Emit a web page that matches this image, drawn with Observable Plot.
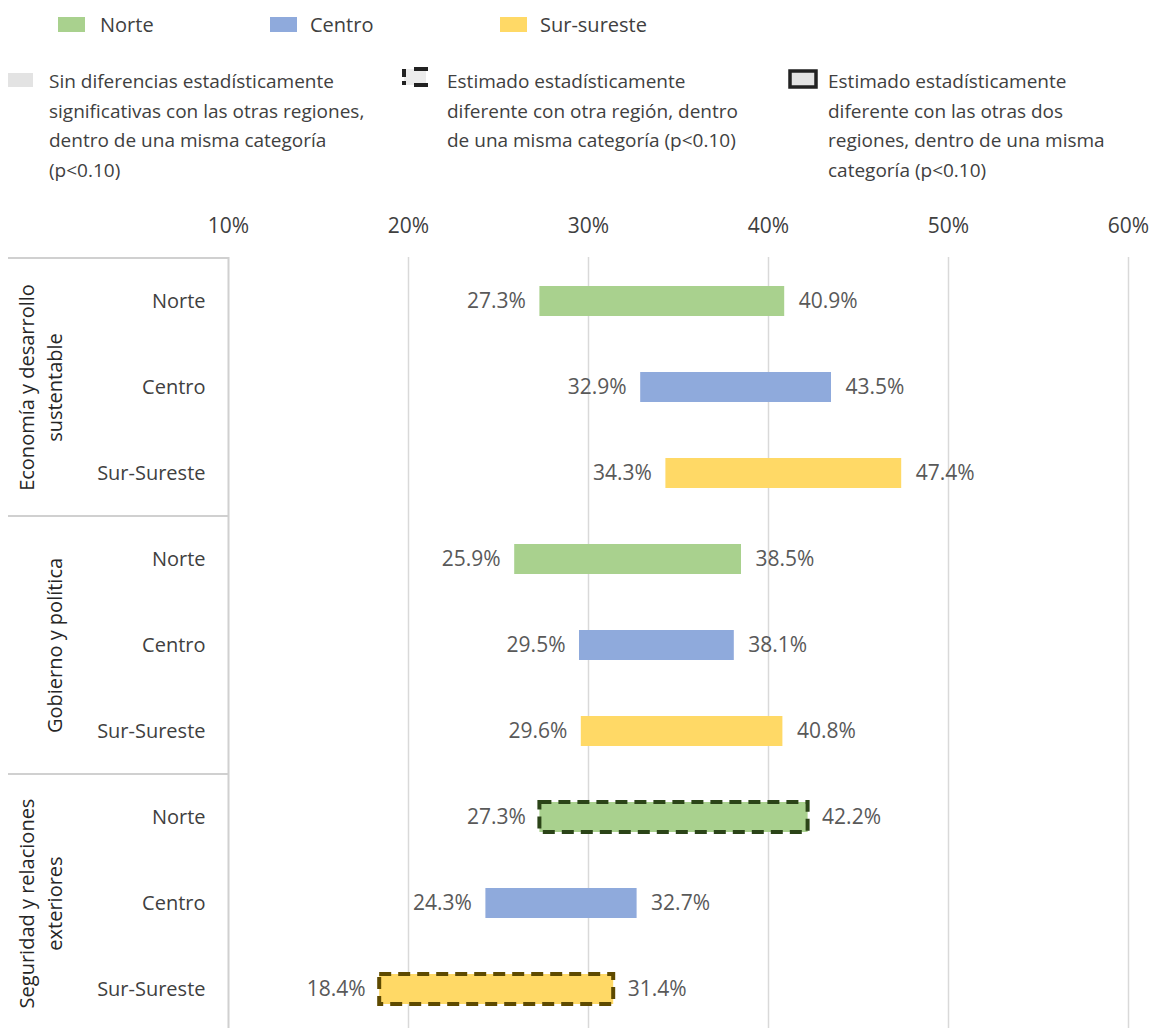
<!DOCTYPE html>
<html>
<head>
<meta charset="utf-8">
<script src="https://cdn.jsdelivr.net/npm/d3@7"></script>
<script src="https://cdn.jsdelivr.net/npm/@observablehq/plot@0.6"></script>
<style>
  html, body { margin: 0; padding: 0; background: #fff; overflow: hidden; }
  body { width: 1153px; font-family: "Open Sans", sans-serif; }
  #legend { position: relative; width: 1153px; height: 190px; color: #404040; }
  .item { position: absolute; font-size: 19px; line-height: 29.5px; white-space: nowrap; }
  .sw { position: absolute; box-sizing: border-box; }
  #chart svg { display: block; max-width: none; }
</style>
</head>
<body>
<div id="legend"></div>
<div id="chart"></div>
<script>
// ---- data ----
const categories = ["Economía y desarrollo sustentable", "Gobierno y política", "Seguridad y relaciones exteriores"];
const categoryLabels = ["Economía y desarrollo\nsustentable", "Gobierno y política", "Seguridad y relaciones\nexteriores"];
const regions = ["Norte", "Centro", "Sur-Sureste"];
const lower = [27.3, 32.9, 34.3, 25.9, 29.5, 29.6, 27.3, 24.3, 18.4];
const upper = [40.9, 43.5, 47.4, 38.5, 38.1, 40.8, 42.2, 32.7, 31.4];
// 0 = no difference, 1 = different from one other region, 2 = different from both
const significance = [0, 0, 0, 0, 0, 0, 1, 0, 1];
const xTicks = [10, 20, 30, 40, 50, 60];
const regionColors = ["#A9D18E", "#8FAADC", "#FFD966"];
const regionBorders = ["#2B4418", "#2F3F66", "#5E4A00"];
const legendRegions = ["Norte", "Centro", "Sur-sureste"];
const legendSig = [
  "Sin diferencias estadísticamente\nsignificativas con las otras regiones,\ndentro de una misma categoría\n(p<0.10)",
  "Estimado estadísticamente\ndiferente con otra región, dentro\nde una misma categoría (p<0.10)",
  "Estimado estadísticamente\ndiferente con las otras dos\nregiones, dentro de una misma\ncategoría (p<0.10)"
];

// ---- table ----
const rows = [];
categories.forEach((c, ci) => regions.forEach((r, ri) => {
  const i = ci * 3 + ri;
  rows.push({key: c + "|" + r, category: c, region: r, ri, lo: lower[i], hi: upper[i], sig: significance[i]});
}));
const keys = rows.map(d => d.key);
const groupRows = categories.map((c, ci) => ({key: c + "|" + regions[1], label: categoryLabels[ci]}));

// ---- legend (HTML) ----
const legend = document.getElementById("legend");
const topPos = [{sx: 58, tx: 100}, {sx: 270, tx: 310}, {sx: 500, tx: 540}];
legendRegions.forEach((name, i) => {
  const s = document.createElement("div");
  s.className = "sw";
  Object.assign(s.style, {left: topPos[i].sx + "px", top: "17px", width: "27px", height: "15px", background: regionColors[i]});
  legend.appendChild(s);
  const t = document.createElement("div");
  t.className = "item";
  Object.assign(t.style, {left: topPos[i].tx + "px", top: "10px", fontSize: "20px"});
  t.textContent = name;
  legend.appendChild(t);
});
const sigPos = [{sx: 8, tx: 49}, {sx: 402, tx: 447}, {sx: 788, tx: 828}];
legendSig.forEach((txt, i) => {
  const s = document.createElementNS("http://www.w3.org/2000/svg", "svg");
  s.setAttribute("width", 32); s.setAttribute("height", 24);
  Object.assign(s.style, {position: "absolute", left: sigPos[i].sx + "px", top: "66px"});
  if (i === 0) {
    s.innerHTML = '<rect x="0" y="7" width="25" height="14" fill="#e3e3e3"/>';
  } else if (i === 1) {
    s.innerHTML = '<rect x="2" y="3" width="22" height="16" fill="#ececec"/>' +
      '<path d="M2,3 V19" stroke="#222" stroke-width="4" stroke-dasharray="8,4"/>' +
      '<path d="M12,3 H26 M12,19 H26" stroke="#222" stroke-width="4"/>';
  } else {
    s.innerHTML = '<rect x="2" y="5" width="26" height="16" fill="#e3e3e3" stroke="#222" stroke-width="3.5"/>';
  }
  legend.appendChild(s);
  const t = document.createElement("div");
  t.className = "item";
  Object.assign(t.style, {left: sigPos[i].tx + "px", top: "67px", whiteSpace: "pre"});
  t.textContent = txt;
  legend.appendChild(t);
});

// ---- chart ----
const plot = Plot.plot({
  width: 1153,
  height: 843,
  marginLeft: 228,
  marginRight: 25,
  marginTop: 67,
  marginBottom: 0,
  style: {fontFamily: "Open Sans", fontSize: "20px", color: "#404040", background: "#fff", overflow: "visible"},
  x: {domain: [10, 60], axis: null},
  y: {domain: keys, paddingInner: 0.65, paddingOuter: 0.325, axis: null},
  color: {domain: regions, range: regionColors},
  marks: [
    Plot.ruleX(xTicks.slice(1), {stroke: "#d9d9d9", strokeWidth: 1.5}),
    Plot.ruleX([xTicks[0]], {stroke: "#d0d0d0", strokeWidth: 2}),
    Plot.axisX({anchor: "top", ticks: xTicks, tickSize: 0, tickPadding: 25, tickFormat: d => d + "%", fontSize: 21, fill: "#404040", label: null}),
    Plot.axisY({anchor: "left", tickSize: 0, tickPadding: 23, tickFormat: d => d.split("|")[1], fontSize: 20, fill: "#404040", label: null}),
    Plot.barX(rows, {y: "key", x1: "lo", x2: "hi", fill: "region"}),
    Plot.barX(rows.filter(d => d.sig === 1), {y: "key", x1: "lo", x2: "hi", fill: "none",
      stroke: d => regionBorders[d.ri], strokeWidth: 4, strokeDasharray: "12,7"}),
    Plot.barX(rows.filter(d => d.sig === 2), {y: "key", x1: "lo", x2: "hi", fill: "none",
      stroke: d => regionBorders[d.ri], strokeWidth: 4}),
    Plot.text(rows, {y: "key", x: "lo", text: d => d.lo.toFixed(1) + "%", textAnchor: "end", dx: -14, fill: "#595959", fontSize: 21}),
    Plot.text(rows, {y: "key", x: "hi", text: d => d.hi.toFixed(1) + "%", textAnchor: "start", dx: 14, fill: "#595959", fontSize: 21}),
    Plot.text(groupRows, {y: "key", text: "label", frameAnchor: "left", dx: -167, rotate: -90,
      textAnchor: "middle", lineAnchor: "bottom", lineHeight: 1.4, fontSize: 20, fill: "#262626"})
  ]
});
document.getElementById("chart").appendChild(plot);

// left frame lines derived from the y scale
const ys = plot.scale("y");
const step = ys.step || (ys.range[1] - ys.range[0]) / keys.length;
const bandTop = k => ys.apply(k) - (step - ys.bandwidth) / 2;
const bounds = categories.map(c => bandTop(c + "|" + regions[0]));
d3.select(plot).append("g")
  .attr("stroke", "#d0d0d0").attr("stroke-width", 2)
  .selectAll("line").data(bounds).join("line")
  .attr("x1", 8).attr("x2", 228)
  .attr("y1", d => d).attr("y2", d => d);
</script>
</body>
</html>
